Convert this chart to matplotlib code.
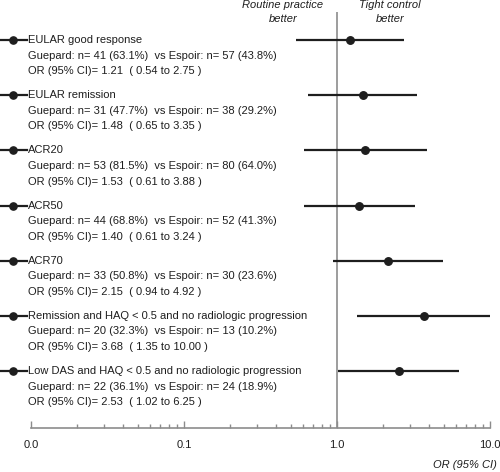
#!/usr/bin/env python3
# Forest plot: odds ratios of outcomes, Guepard (tight control) vs Espoir (routine practice)

import matplotlib
matplotlib.use('Agg')
import matplotlib.pyplot as plt
from matplotlib.ticker import FixedLocator, FixedFormatter

plt.rcParams['font.family'] = ['Liberation Sans', 'DejaVu Sans']

outcomes = ['EULAR good response', 'EULAR remission', 'ACR20', 'ACR50', 'ACR70',
            'Remission and HAQ < 0.5 and no radiologic progression',
            'Low DAS and HAQ < 0.5 and no radiologic progression']
guepard_n = [41, 31, 53, 44, 33, 20, 22]
guepard_pct = [63.1, 47.7, 81.5, 68.8, 50.8, 32.3, 36.1]
espoir_n = [57, 38, 80, 52, 30, 13, 24]
espoir_pct = [43.8, 29.2, 64.0, 41.3, 23.6, 10.2, 18.9]
or_vals = [1.21, 1.48, 1.53, 1.40, 2.15, 3.68, 2.53]
ci_lo = [0.54, 0.65, 0.61, 0.61, 0.94, 1.35, 1.02]
ci_hi = [2.75, 3.35, 3.88, 3.24, 4.92, 10.00, 6.25]

tick_vals = [0.01, 0.1, 1.0, 10.0]
tick_labels = ['0.0', '0.1', '1.0', '10.0']

ink = '#1e1e1e'
grey = '#8c8c8c'
fs = 8.0

fig = plt.figure(figsize=(5, 4.72), dpi=100)
ax = fig.add_axes([31 / 500, 44 / 472, 459 / 500, 416 / 472])
ax.set_xscale('log')
ax.set_xlim(0.01, 10)
ax.set_ylim(7.033, -0.5075)

ax.axvline(1.0, color=grey, lw=1.2, zorder=1)

rows = range(len(outcomes))
ax.hlines(list(rows), ci_lo, ci_hi, color=ink, lw=1.6, zorder=2)
ax.plot(or_vals, list(rows), 'o', color=ink, ms=5.4, zorder=3)

# left-hand labels with small marker glyph
tr = ax.get_yaxis_transform()
dy = 0.283
for i in rows:
    ax.plot([-0.0675, -0.0087], [i, i], color=ink, lw=1.6, transform=tr, clip_on=False)
    ax.plot([-0.039], [i], 'o', color=ink, ms=5.2, transform=tr, clip_on=False)
    ax.text(-0.0065, i, outcomes[i], transform=tr, fontsize=fs, color=ink,
            va='center', ha='left')
    ax.text(-0.0065, i + dy,
            'Guepard: n= %d (%.1f%%)  vs Espoir: n= %d (%.1f%%)'
            % (guepard_n[i], guepard_pct[i], espoir_n[i], espoir_pct[i]),
            transform=tr, fontsize=fs, color=ink, va='center', ha='left')
    ax.text(-0.0065, i + 2 * dy,
            'OR (95%% CI)= %.2f  ( %.2f to %.2f )' % (or_vals[i], ci_lo[i], ci_hi[i]),
            transform=tr, fontsize=fs, color=ink, va='center', ha='left')

# axis styling
for s in ['top', 'right', 'left']:
    ax.spines[s].set_visible(False)
ax.spines['bottom'].set_color(grey)
ax.spines['bottom'].set_linewidth(1.2)
ax.set_yticks([])
ax.xaxis.set_major_locator(FixedLocator(tick_vals))
ax.xaxis.set_major_formatter(FixedFormatter(tick_labels))
minors = [m * d for d in [0.01, 0.1, 1.0] for m in range(2, 10)]
ax.xaxis.set_minor_locator(FixedLocator(minors))
ax.tick_params(axis='x', which='both', direction='in', color=grey, width=1.0,
               labelsize=fs, labelcolor=ink, pad=9)
ax.tick_params(axis='x', which='major', length=5)
ax.tick_params(axis='x', which='minor', length=3)

fig.text(283 / 500, 1 - 0.5 / 472, 'Routine practice\nbetter', style='italic',
         fontsize=fs, color=ink, ha='center', va='top', linespacing=1.45)
fig.text(390 / 500, 1 - 0.5 / 472, 'Tight control\nbetter', style='italic',
         fontsize=fs, color=ink, ha='center', va='top', linespacing=1.45)
fig.text(497 / 500, 1 - 465 / 472, 'OR (95% CI)', style='italic',
         fontsize=fs, color=ink, ha='right', va='center')

fig.savefig('out.png', dpi=100)
